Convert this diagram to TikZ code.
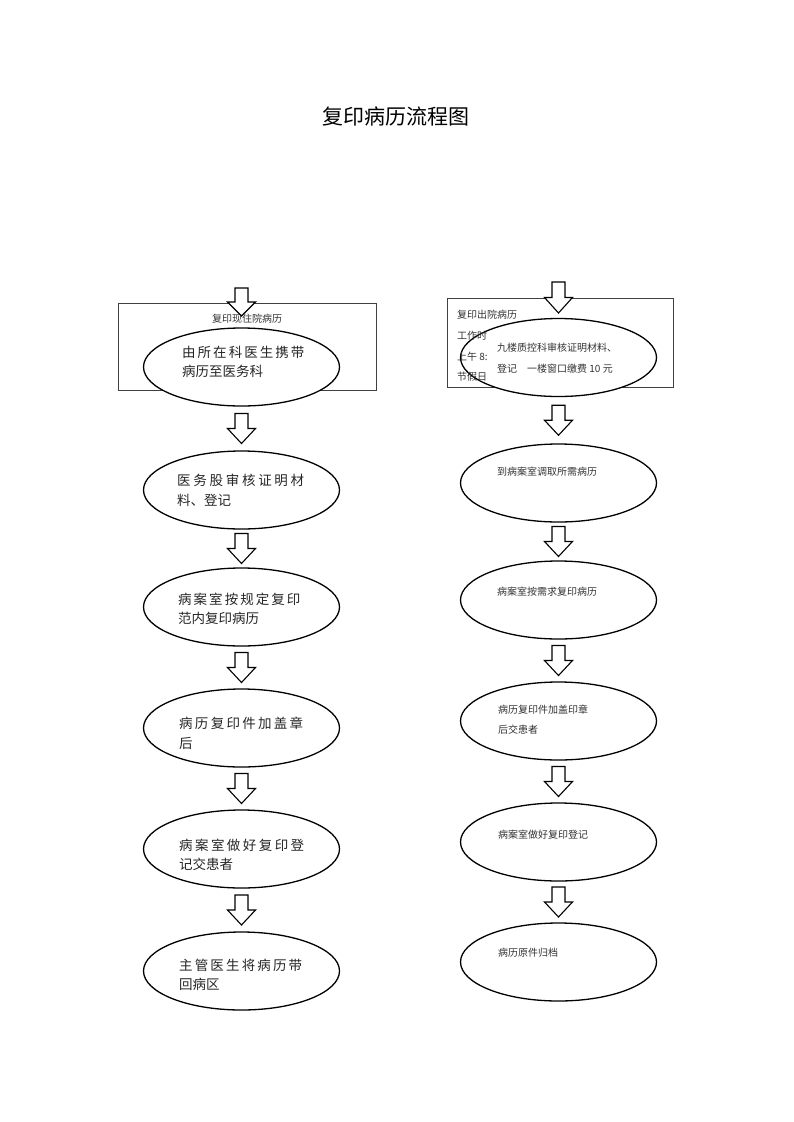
\documentclass[tikz,border=0pt]{standalone}
\usepackage{fontspec}
\setmainfont{Noto Sans CJK SC}
\usetikzlibrary{shapes.geometric,calc}
\newcommand\barrowat[2]{\draw[barr] ([xshift=-6.5pt,yshift=#2]#1) -- ([xshift=6.5pt,yshift=#2]#1) -- ([xshift=6.5pt]#1) -- ([xshift=14pt]#1) -- ([yshift=-#2]#1) -- ([xshift=-14pt]#1) -- ([xshift=-6.5pt]#1) -- cycle;}
\newcommand\flowarrow[2]{\coordinate (m#1#2) at ($(#1.south)!0.5!(#2.north)$); \barrowat{m#1#2}{15pt}}
\begin{document}
\begin{tikzpicture}[x=1pt,y=-1pt,
 oval/.style={ellipse,draw,line width=1.3pt,fill=white,minimum width=196pt,minimum height=78pt,inner sep=0pt},
 barr/.style={draw,line width=1.1pt,fill=white,line join=miter},
 frame/.style={draw=black!75,line width=0.8pt,inner sep=0pt},
 bigtxt/.style={font=\fontsize{13.5}{16}\selectfont,anchor=west,inner sep=0pt,text=black!85},
 smalltxt/.style={font=\fontsize{10}{12}\selectfont,anchor=west,inner sep=0pt,text=black!80},
]
\useasboundingbox (0,0) rectangle (793,1122);
\node[font=\fontsize{21}{24}\selectfont] (title) at (396,116) {复印病历流程图};

% ---------- left column ----------
\node[frame,minimum width=258pt,minimum height=87pt] (Lbox) at (247,346.5) {};
\node[smalltxt,anchor=center] (Lboxt) at (247,319) {复印现住院病历};
\node[oval] (L1) at (241.5,367) {};
\node[oval] (L2) at (241.5,490) {};
\node[oval] (L3) at (241.5,607) {};
\node[oval] (L4) at (241.5,728) {};
\node[oval] (L5) at (241.5,849) {};
\node[oval] (L6) at (241.5,971) {};

\node[bigtxt] (tL1a) at (182,352) {\makebox[120pt][s]{由 所 在 科 医 生 携 带}};
\node[bigtxt] (tL1b) at (182,371) {病历至医务科};
\node[bigtxt] (tL2a) at (177,480) {\makebox[127pt][s]{医 务 股 审 核 证 明 材}};
\node[bigtxt] (tL2b) at (177,500) {料、登记};
\node[bigtxt] (tL3a) at (178,599) {\makebox[122pt][s]{病 案 室 按 规 定 复 印}};
\node[bigtxt] (tL3b) at (178,618) {范内复印病历};
\node[bigtxt] (tL4a) at (179,723) {\makebox[124pt][s]{病 历 复 印 件 加 盖 章}};
\node[bigtxt] (tL4b) at (179,743) {后};
\node[bigtxt] (tL5a) at (179,845) {\makebox[125pt][s]{病 案 室 做 好 复 印 登}};
\node[bigtxt] (tL5b) at (179,864) {记交患者};
\node[bigtxt] (tL6a) at (179,965) {\makebox[123pt][s]{主 管 医 生 将 病 历 带}};
\node[bigtxt] (tL6b) at (179,984) {回病区};

\coordinate (Lin) at (241.5,302);
\barrowat{Lin}{14pt}
\flowarrow{L1}{L2}
\flowarrow{L2}{L3}
\flowarrow{L3}{L4}
\flowarrow{L4}{L5}
\flowarrow{L5}{L6}

% ---------- right column ----------
\node[frame,minimum width=226pt,minimum height=89pt] (Rbox) at (560,342.5) {};
\node[oval] (R1) at (558.5,357.5) {};
\node[oval] (R2) at (558.5,483) {};
\node[oval] (R3) at (558.5,600) {};
\node[oval] (R4) at (558.5,721) {};
\node[oval] (R5) at (558.5,842) {};
\node[oval] (R6) at (558.5,962) {};

\node[smalltxt] (Rbt1) at (457,315) {复印出院病历};
\node[smalltxt] (Rbt2) at (457,336) {工作时};
\node[smalltxt] (Rbt3) at (457,357) {上午 8:};
\node[smalltxt] (Rbt4) at (457,377) {节假日};

\node[smalltxt] (tR1a) at (497,348) {九楼质控科审核证明材料、};
\node[smalltxt] (tR1b) at (497,369) {登记\hspace{10pt}一楼窗口缴费 10 元};
\node[smalltxt] (tR2) at (497,472) {到病案室调取所需病历};
\node[smalltxt] (tR3) at (497,592) {病案室按需求复印病历};
\node[smalltxt] (tR4a) at (498,710) {病历复印件加盖印章};
\node[smalltxt] (tR4b) at (498,730) {后交患者};
\node[smalltxt] (tR5) at (498,835) {病案室做好复印登记};
\node[smalltxt] (tR6) at (498,953) {病历原件归档};

\coordinate (Rin) at (558.5,297.5);
\barrowat{Rin}{15.5pt}
\flowarrow{R1}{R2}
\flowarrow{R2}{R3}
\flowarrow{R3}{R4}
\flowarrow{R4}{R5}
\flowarrow{R5}{R6}
\end{tikzpicture}
\end{document}
